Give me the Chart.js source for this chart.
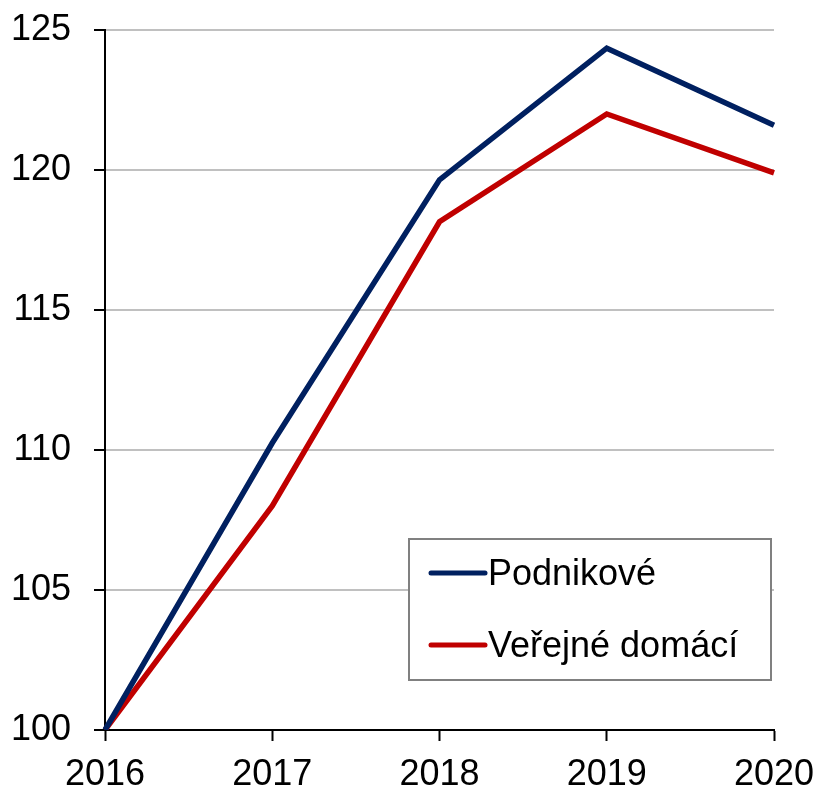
<!doctype html>
<html lang="cs">
<head>
<meta charset="utf-8">
<title>Podnikové a veřejné domácí</title>
<script src="https://cdn.jsdelivr.net/npm/chart.js@4.4.1/dist/chart.umd.min.js"></script>
<style>
  html, body { margin: 0; padding: 0; background: #fff; }
  #wrap { width: 818px; height: 789px; }
</style>
</head>
<body>
<div id="wrap"><canvas id="c"></canvas></div>
<script>
// data
var years = ["2016", "2017", "2018", "2019", "2020"];
var podnikove = [100, 110.25, 119.65, 124.35, 121.6];
var verejne = [100, 108.0, 118.15, 122.0, 119.9];
var seriesNames = ["Podnikové", "Veřejné domácí"];
var seriesColors = ["#002060", "#C00000"];

var FONT = "'Liberation Sans', Arial, sans-serif";

// legend drawn inside the plot, like the original
var boxLegend = {
  id: "boxLegend",
  afterDraw: function (chart) {
    var ctx = chart.ctx, a = chart.chartArea;
    var x = a.right - 365, y = a.top + 509, w = 362, h = 141;
    ctx.save();
    ctx.fillStyle = "#fff";
    ctx.fillRect(x, y, w, h);
    ctx.strokeStyle = "#808080";
    ctx.lineWidth = 2;
    ctx.strokeRect(x, y, w, h);
    ctx.font = "36px " + FONT;
    ctx.textBaseline = "alphabetic";
    chart.data.datasets.forEach(function (ds, i) {
      var ly = y + 34 + i * 72;
      ctx.strokeStyle = ds.borderColor;
      ctx.lineWidth = 5;
      ctx.lineCap = "round";
      ctx.beginPath();
      ctx.moveTo(x + 22, ly);
      ctx.lineTo(x + 76, ly);
      ctx.stroke();
      ctx.fillStyle = "#000";
      ctx.fillText(ds.label, x + 79, ly + 12);
    });
    ctx.restore();
  }
};

new Chart("c", {
  type: "line",
  data: {
    labels: years,
    datasets: [
      { label: seriesNames[0], data: podnikove, borderColor: seriesColors[0], backgroundColor: seriesColors[0], borderWidth: 5.5, pointRadius: 0, tension: 0, borderJoinStyle: "miter" },
      { label: seriesNames[1], data: verejne, borderColor: seriesColors[1], backgroundColor: seriesColors[1], borderWidth: 5.5, pointRadius: 0, tension: 0, borderJoinStyle: "miter" }
    ]
  },
  options: {
    responsive: true,
    maintainAspectRatio: false,
    animation: false,
    layout: { padding: { left: 0, right: 44, top: 30, bottom: 0 } },
    plugins: {
      legend: { display: false },
      tooltip: { enabled: false }
    },
    scales: {
      x: {
        offset: false,
        grid: { drawOnChartArea: false, drawTicks: true, tickLength: 11, tickColor: "#000", tickWidth: 2 },
        border: { color: "#000", width: 2 },
        ticks: { color: "#000", font: { family: FONT, size: 36 }, padding: 12, maxRotation: 0, autoSkip: false },
        afterFit: function (s) { s.height = 59; s.paddingLeft = 0; s.paddingRight = 0; }
      },
      y: {
        min: 100,
        max: 125,
        ticks: { stepSize: 5, color: "#000", font: { family: FONT, size: 36 }, padding: 23 },
        grid: { color: "#C0C0C0", lineWidth: 2, tickLength: 11, tickColor: "#000", tickWidth: 2 },
        border: { color: "#000", width: 2 },
        afterFit: function (s) { s.width = 105; s.paddingTop = 0; s.paddingBottom = 0; }
      }
    }
  },
  plugins: [boxLegend]
});
</script>
</body>
</html>
